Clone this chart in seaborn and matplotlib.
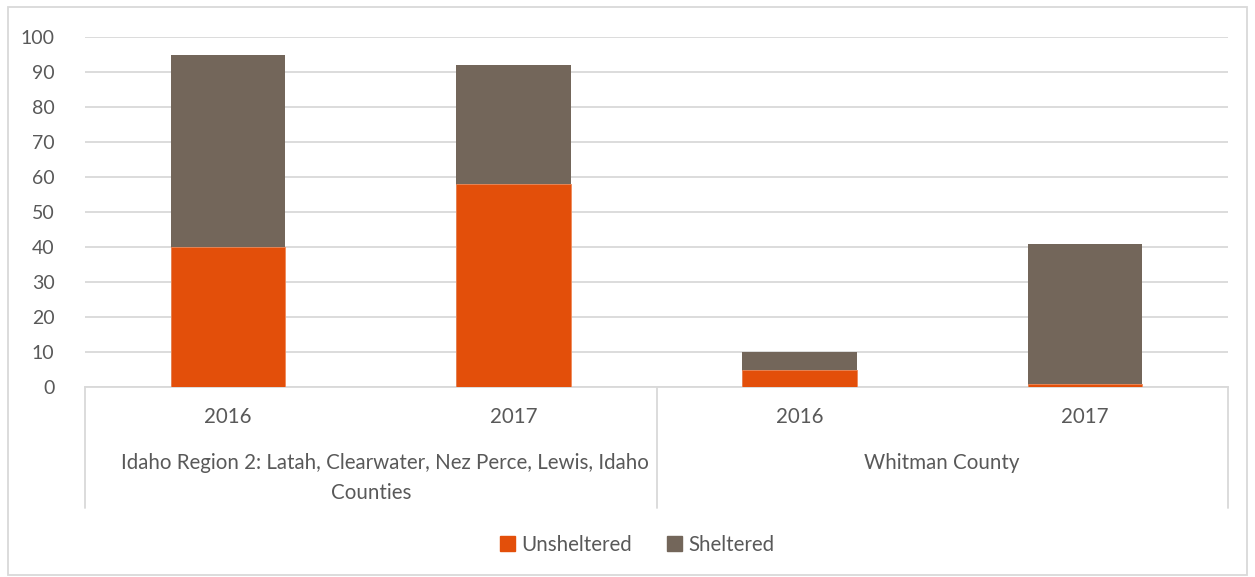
import matplotlib
matplotlib.use("Agg")
import matplotlib.pyplot as plt
import seaborn as sns
import pandas as pd
from matplotlib.patches import Rectangle, Patch
from matplotlib.lines import Line2D

groups = ["Idaho Region 2: Latah, Clearwater, Nez Perce, Lewis, Idaho\nCounties", "Whitman County"]
years = ["2016", "2017", "2016", "2017"]
group_of_bar = [0, 0, 1, 1]
unsheltered = [40, 58, 5, 1]
sheltered = [55, 34, 5, 40]

sns.set_theme(style="white")
plt.rcParams['font.family'] = ['Lato', 'DejaVu Sans']

TXT = "#595959"
GRID = "#d9d9d9"
C_UN = "#e34f0a"
C_SH = "#73665a"
FS = 14.8

keys = [f"{g}-{y}" for g, y in zip(group_of_bar, years)]
df = pd.DataFrame({"key": keys, "un": unsheltered,
                   "total": [u + s for u, s in zip(unsheltered, sheltered)]})

fig = plt.figure(figsize=(12.55, 5.77), dpi=100)
W, H = 1255, 577
ax = fig.add_axes([85 / W, (H - 387) / H, (1228 - 85) / W, (387 - 37) / H])

sns.barplot(data=df, x="key", y="total", order=keys, color=C_SH, width=0.4,
            saturation=1, ax=ax, zorder=3, linewidth=0)
sns.barplot(data=df, x="key", y="un", order=keys, color=C_UN, width=0.4,
            saturation=1, ax=ax, zorder=4, linewidth=0.6, edgecolor="#f08a5a")

ax.set_ylim(0, 100)
ax.set_xlim(-0.5, 3.5)
ax.set_yticks(range(0, 101, 10))
ax.yaxis.grid(True, color=GRID, linewidth=1.3)
ax.set_axisbelow(True)
for s in ["top", "right", "left"]:
    ax.spines[s].set_visible(False)
ax.spines["bottom"].set_color(GRID)
ax.spines["bottom"].set_linewidth(1.3)
ax.tick_params(axis="y", length=0, labelsize=14, labelcolor=TXT, pad=22)
ax.set_xticks([])
ax.set_xlabel("")
ax.set_ylabel("")

# Multi-level category axis
trans = ax.get_xaxis_transform()
def ypx(y):
    return (H - y - (H - 387)) / (387 - 37)
for xb in [-0.5, 1.5, 3.5]:
    ax.add_line(Line2D([xb, xb], [0, ypx(508)], transform=trans, color=GRID,
                       linewidth=1.3, clip_on=False))
for i, y in enumerate(years):
    ax.text(i, ypx(417), y, transform=trans, ha="center", va="center",
            fontsize=FS, color=TXT)
line1, line2 = groups[0].split("\n")
ax.text(0.55, ypx(463), line1, transform=trans, ha="center", va="center",
        fontsize=FS, color=TXT)
ax.text(0.5, ypx(493), line2, transform=trans, ha="center", va="center",
        fontsize=FS, color=TXT)
ax.text(2.5, ypx(463), groups[1], transform=trans, ha="center", va="center",
        fontsize=FS, color=TXT)

handles = [Patch(color=C_UN, label="Unsheltered"), Patch(color=C_SH, label="Sheltered")]
fig.legend(handles=handles, loc="center", bbox_to_anchor=(637 / W, (H - 545) / H),
           ncol=2, frameon=False, fontsize=FS, labelcolor=TXT,
           handlelength=0.75, handleheight=0.75, handletextpad=0.3, columnspacing=1.7)

fig.add_artist(Rectangle((8 / W, 2 / H), (1247 - 8) / W, (570 - 2) / H,
                         transform=fig.transFigure, fill=False, edgecolor=GRID, linewidth=1.3))

fig.savefig("out.png", dpi=100, facecolor="white")
